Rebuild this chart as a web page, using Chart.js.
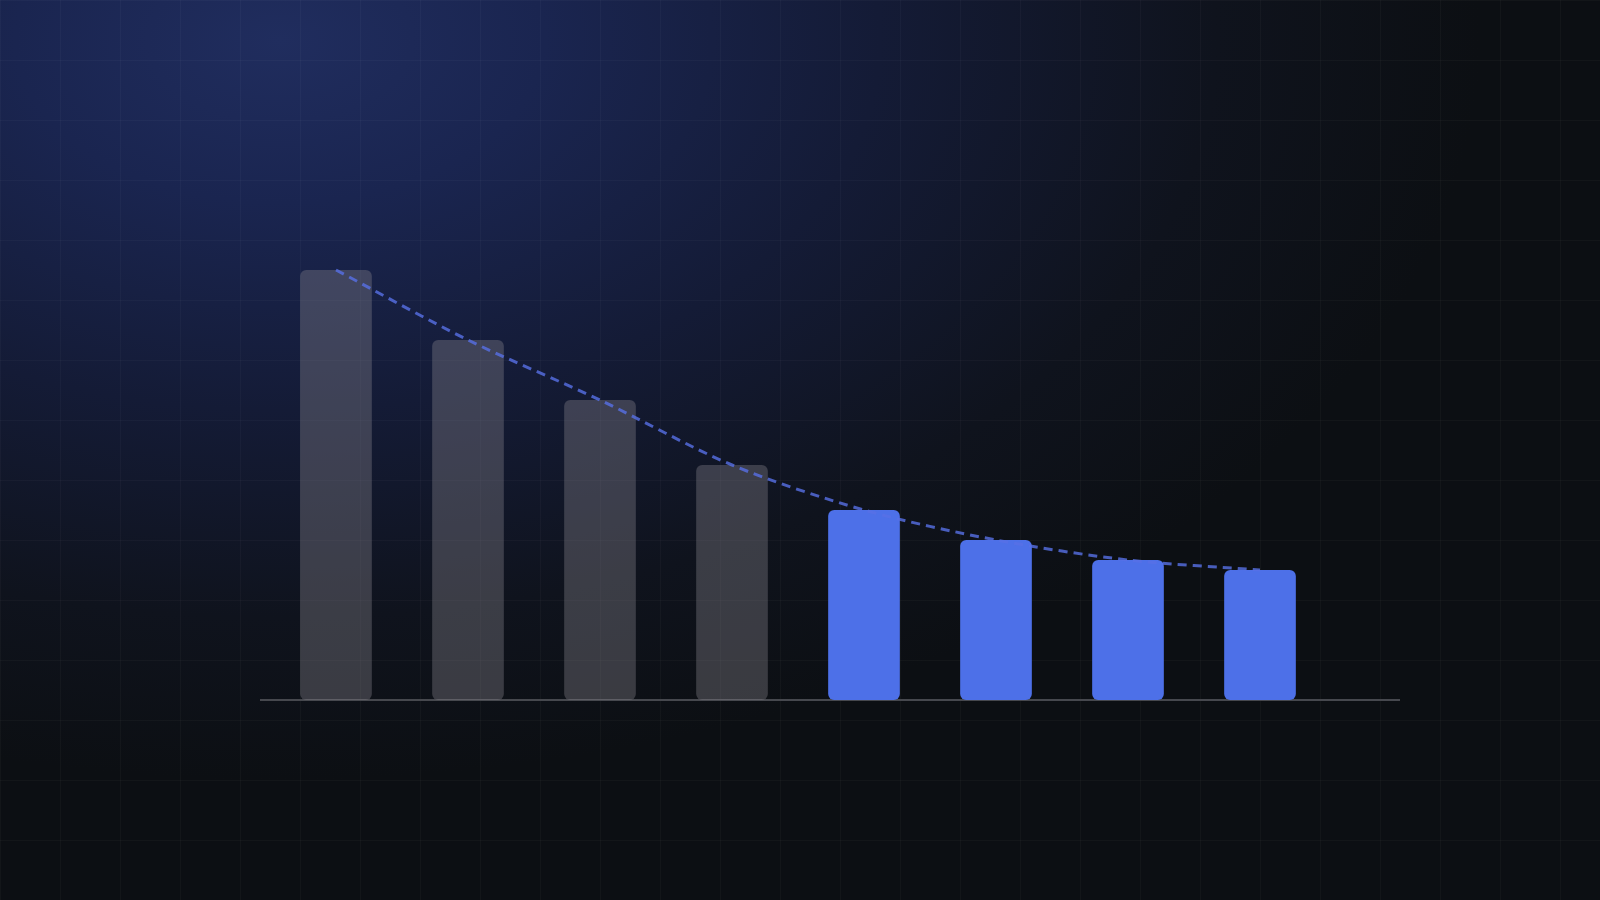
<!DOCTYPE html>
<html>
<head>
<meta charset="utf-8">
<script src="https://cdn.jsdelivr.net/npm/chart.js@4"></script>
<style>
  html, body { margin: 0; padding: 0; width: 1600px; height: 900px; overflow: hidden; }
  body {
    background:
      linear-gradient(rgba(255,255,255,0.028) 1px, transparent 1px) 0 0 / 60px 60px,
      linear-gradient(90deg, rgba(255,255,255,0.028) 1px, transparent 1px) 0 0 / 60px 60px,
      radial-gradient(ellipse 1200px 740px at 280px 40px, #202d5e 0%, #1a2550 22%, #141b36 50%, #0f131d 78%, #0c0f13 100%),
      #0c0f13;
  }
  #wrap { position: absolute; left: 0; top: 0; width: 1600px; height: 900px; }
</style>
</head>
<body>
<div id="wrap"><canvas id="chart" width="1600" height="900"></canvas></div>
<script>
// stages, left to right
const labels = ['1', '2', '3', '4', '5', '6', '7', '8'];
const values = [43, 36, 30, 23.5, 19, 16, 14, 13];
// first four stages are muted, the rest highlighted
const highlighted = [false, false, false, false, true, true, true, true];

const muted = 'rgba(135,134,142,0.37)';
const blue = '#4d70e8';

// long baseline under the bars (runs a bit past the last bar)
const baseline = {
  id: 'baseline',
  beforeDatasetsDraw(chart) {
    const { ctx, chartArea, scales } = chart;
    const y = scales.y.getPixelForValue(0);
    ctx.save();
    ctx.strokeStyle = '#46484e';
    ctx.lineWidth = 2;
    ctx.beginPath();
    ctx.moveTo(chartArea.left - 10, y);
    ctx.lineTo(chartArea.right + 74, y);
    ctx.stroke();
    ctx.restore();
  }
};

new Chart(document.getElementById('chart'), {
  data: {
    labels: labels,
    datasets: [
      {
        type: 'line',
        data: values,
        borderColor: 'rgba(88,112,230,0.8)',
        borderWidth: 3,
        borderDash: [9, 6],
        pointRadius: 0,
        tension: 0.3,
        fill: false,
        order: 0
      },
      {
        type: 'bar',
        data: values,
        backgroundColor: highlighted.map(h => h ? blue : muted),
        borderRadius: 6,
        borderSkipped: false,
        categoryPercentage: 1,
        barPercentage: 0.543,
        order: 1
      }
    ]
  },
  options: {
    responsive: false,
    animation: false,
    devicePixelRatio: 1,
    layout: { padding: { left: 270, right: 274, top: 100, bottom: 200 } },
    scales: {
      x: { display: false, offset: true },
      y: { display: false, min: 0, max: 60 }
    },
    plugins: {
      legend: { display: false },
      tooltip: { enabled: false }
    }
  },
  plugins: [baseline]
});
</script>
</body>
</html>
